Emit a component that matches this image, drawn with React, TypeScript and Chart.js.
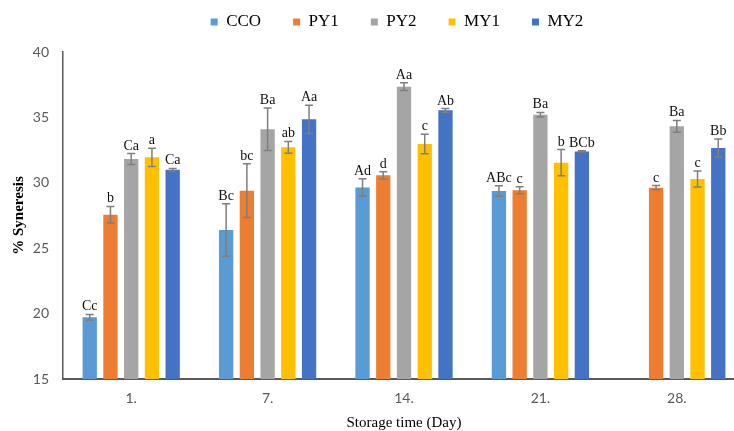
import React, { useEffect, useRef } from 'react';
import { Chart, registerables } from 'chart.js';

Chart.register(...registerables);

const categories = ['1.', '7.', '14.', '21.', '28.'];
const seriesNames = ['CCO', 'PY1', 'PY2', 'MY1', 'MY2'];
const seriesColors = ['#5B9BD5', '#ED7D31', '#A5A5A5', '#FFC000', '#4472C4'];

const ccoValues = [19.72, 26.39, 29.65, 29.37, null];
const ccoErrors = [0.22, 2.0, 0.66, 0.4, null];
const ccoLabels = ['Cc', 'Bc', 'Ad', 'ABc', ''];

const py1Values = [27.56, 29.4, 30.57, 29.43, 29.63];
const py1Errors = [0.63, 2.06, 0.28, 0.27, 0.16];
const py1Labels = ['b', 'bc', 'd', 'c', 'c'];

const py2Values = [31.82, 34.09, 37.35, 35.21, 34.32];
const py2Errors = [0.42, 1.62, 0.3, 0.17, 0.45];
const py2Labels = ['Ca', 'Ba', 'Aa', 'Ba', 'Ba'];

const my1Values = [31.95, 32.71, 32.97, 31.54, 30.29];
const my1Errors = [0.7, 0.45, 0.74, 1.0, 0.62];
const my1Labels = ['a', 'ab', 'c', 'b', 'c'];

const my2Values = [31.0, 34.85, 35.54, 32.4, 32.66];
const my2Errors = [0.1, 1.08, 0.14, 0.05, 0.68];
const my2Labels = ['Ca', 'Aa', 'Ab', 'BCb', 'Bb'];

const yTicks = [15, 20, 25, 30, 35, 40];

const allValues = [ccoValues, py1Values, py2Values, my1Values, my2Values];
const allErrors = [ccoErrors, py1Errors, py2Errors, my1Errors, my2Errors];
const allLabels = [ccoLabels, py1Labels, py2Labels, my1Labels, my2Labels];

const CANVAS_W = 800;
const CANVAS_H = 431;

const errorBarPlugin = {
  id: 'errorBarsAndLabels',
  afterDatasetsDraw(chart: any) {
    const ctx = chart.ctx;
    const yScale = chart.scales.y;
    chart.data.datasets.forEach((ds: any, di: number) => {
      const meta = chart.getDatasetMeta(di);
      meta.data.forEach((bar: any, i: number) => {
        const v = ds.data[i];
        const e = ds.errors[i];
        if (v == null || e == null) return;
        const yt = yScale.getPixelForValue(v + e);
        const yb = yScale.getPixelForValue(v - e);
        ctx.save();
        ctx.strokeStyle = '#7f7f7f';
        ctx.lineWidth = 1.5;
        ctx.beginPath();
        ctx.moveTo(bar.x, yt);
        ctx.lineTo(bar.x, yb);
        ctx.moveTo(bar.x - 4, yt);
        ctx.lineTo(bar.x + 4, yt);
        ctx.moveTo(bar.x - 4, yb);
        ctx.lineTo(bar.x + 4, yb);
        ctx.stroke();
        const label = ds.sigLabels[i];
        if (label) {
          ctx.fillStyle = '#111';
          ctx.font = '14px "Liberation Serif"';
          ctx.textAlign = 'center';
          ctx.textBaseline = 'alphabetic';
          ctx.fillText(label, bar.x, yt - 4);
        }
        ctx.restore();
      });
    });
  },
};

const legendSpacer = {
  id: 'legendSpacer',
  beforeLayout(chart: any) {
    const lg = chart.legend;
    if (lg && !lg._patched) {
      const orig = lg.fit;
      lg.fit = function () {
        orig.call(this);
        this.height = 70.5;
      };
      lg._patched = true;
    }
  },
};

export default function App() {
  const canvasRef = useRef<HTMLCanvasElement | null>(null);

  useEffect(() => {
    if (!canvasRef.current) return;
    const datasets = seriesNames.map((name, k) => ({
      label: name,
      data: allValues[k],
      errors: allErrors[k],
      sigLabels: allLabels[k],
      backgroundColor: seriesColors[k],
      borderWidth: 0,
      categoryPercentage: 0.76,
      barPercentage: 0.69,
      yAxisID: 'y',
    }));
    const chart = new Chart(canvasRef.current, {
      type: 'bar',
      data: { labels: categories, datasets: datasets as any },
      options: {
        responsive: false,
        animation: false,
        events: [],
        layout: { padding: { top: -18.5, left: 0, right: 6, bottom: 0 } },
        plugins: {
          tooltip: { enabled: false },
          legend: {
            position: 'top',
            labels: {
              boxWidth: 7,
              boxHeight: 7,
              padding: 32,
              color: '#000',
              font: { family: '"Liberation Serif"', size: 17 },
            },
          },
        },
        scales: {
          x: {
            type: 'category',
            offset: true,
            grid: { display: false, drawTicks: false },
            border: { display: true, color: '#595959', width: 2 },
            ticks: { color: '#595959', font: { family: 'Lato', size: 14 }, padding: 11 },
            title: {
              display: true,
              text: 'Storage time (Day)',
              color: '#000',
              font: { family: '"Liberation Serif"', size: 15 },
              padding: { top: 0, bottom: -1 },
            },
            afterFit(scale: any) {
              scale.height = 52;
            },
          },
          y: {
            position: 'left',
            min: 15,
            max: 40,
            grid: { display: false, drawTicks: false },
            border: { display: true, color: '#595959', width: 1.5 },
            ticks: { stepSize: 5, color: '#595959', font: { family: 'Lato', size: 14 }, padding: 14 },
            afterBuildTicks(scale: any) {
              scale.ticks = yTicks.map((v) => ({ value: v }));
            },
            title: {
              display: true,
              text: '% Syneresis',
              color: '#000',
              font: { family: '"Liberation Serif"', size: 15, weight: 'bold' },
              padding: { top: 10, bottom: 0 },
            },
            afterFit(scale: any) {
              scale.width = 63;
            },
          },
          ySpacer: {
            type: 'linear',
            position: 'right',
            display: true,
            grid: { display: false, drawTicks: false },
            border: { display: false },
            ticks: { display: false },
            afterFit(scale: any) {
              scale.width = 49;
            },
          },
        },
      } as any,
      plugins: [errorBarPlugin, legendSpacer],
    });
    return () => chart.destroy();
  }, []);

  return (
    <div style={{ position: 'fixed', left: 0, top: 0, width: 734, height: 431, overflow: 'hidden', background: '#fff' }}>
      <canvas ref={canvasRef} width={CANVAS_W} height={CANVAS_H} style={{ width: CANVAS_W, height: CANVAS_H, display: 'block' }} />
    </div>
  );
}
